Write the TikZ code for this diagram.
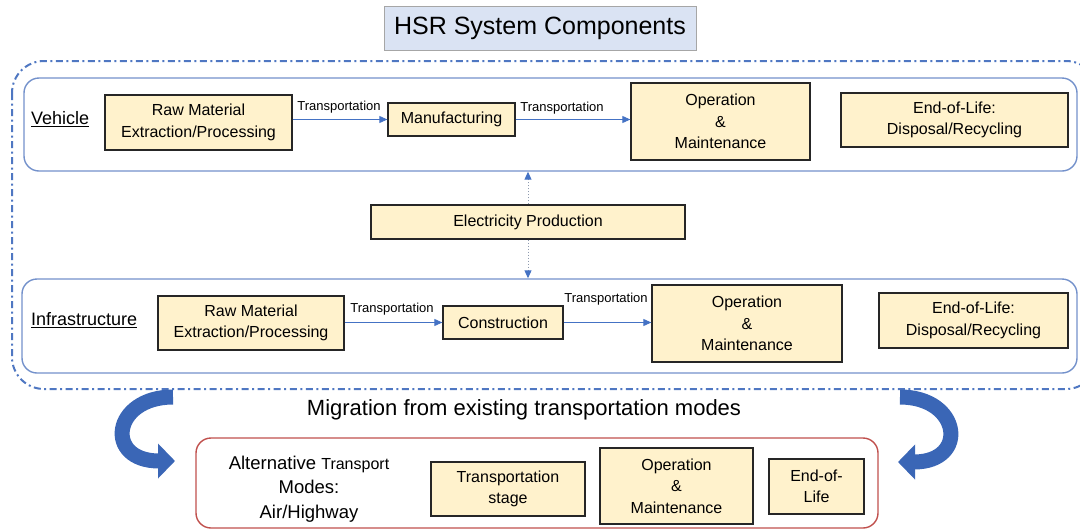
\documentclass[tikz,border=0pt]{standalone}
\usepackage{fontspec}
\setmainfont{Liberation Sans}
\usetikzlibrary{arrows.meta}
\definecolor{boxfill}{HTML}{FFF2CC}
\definecolor{boxline}{HTML}{262626}
\definecolor{contline}{HTML}{7391CB}
\definecolor{outerline}{HTML}{4F77C2}
\definecolor{titlefill}{HTML}{DAE3F3}
\definecolor{titleline}{HTML}{A6A6A6}
\definecolor{redline}{HTML}{C0504D}
\definecolor{arrblue}{HTML}{4472C4}
\definecolor{bigblue}{HTML}{3A66B6}
\definecolor{dotgray}{HTML}{8E9AAF}
\begin{document}
\begin{tikzpicture}[x=1pt,y=-1pt,
 stagebox/.style={draw=boxline, fill=boxfill, line width=1.3pt, inner sep=0pt, align=center, font=\fontsize{16}{21.5}\selectfont},
 container/.style={draw=contline, line width=1.4pt, rounded corners=15pt, inner sep=0pt},
 translabel/.style={font=\fontsize{13}{15}\selectfont, inner sep=0pt},
 flow/.style={draw=arrblue, line width=0.9pt, -{Triangle[length=8pt,width=7pt]}},
 elecflow/.style={draw=dotgray, line width=1pt, dotted, -{Triangle[length=8pt,width=7pt,color=arrblue]}},
 bigarrow/.style={draw=bigblue, line width=15pt, -{Triangle[length=17pt,width=34pt]}},
 seclabel/.style={font=\fontsize{18}{22}\selectfont, inner sep=0pt, anchor=west},
]
\useasboundingbox (0,0) rectangle (1080,531);
\clip (0,0) rectangle (1080,531);

% title
\node[draw=titleline, fill=titlefill, line width=1pt, inner sep=0pt,
      minimum width=312pt, minimum height=44pt, font=\fontsize{25}{30}\selectfont]
      (title) at (540,28) {HSR System Components};

% outer dash-dot frame
\draw[outerline, line width=2pt, dash pattern=on 7pt off 3.5pt on 2pt off 3.5pt,
      rounded corners=32pt] (12,61) rectangle (1098,389);

% containers
\node[container, minimum width=1053pt, minimum height=93pt] (veh) at (550.5,124.5) {};
\node[container, minimum width=1055pt, minimum height=94pt] (inf) at (549.5,326) {};
\node[draw=redline, line width=1.4pt, rounded corners=15pt, inner sep=0pt,
      minimum width=682pt, minimum height=90pt] (alt) at (537,483) {};

% section labels
\node[seclabel] (vehlab) at (31,119) {\underline{Vehicle}};
\node[seclabel] (inflab) at (31,320) {\underline{Infrastructure}};

% vehicle stages
\node[stagebox, minimum width=187pt, minimum height=55pt] (rawv) at (198.5,122.5) {Raw Material\\Extraction/Processing};
\node[stagebox, minimum width=127pt, minimum height=33pt] (mfg) at (451.5,119.5) {Manufacturing};
\node[stagebox, minimum width=179pt, minimum height=77pt] (omv) at (720.5,121.5) {Operation\\\&\\Maintenance};
\node[stagebox, minimum width=227pt, minimum height=54pt] (eolv) at (954.5,120) {End-of-Life:\\Disposal/Recycling};

% electricity
\node[stagebox, minimum width=314pt, minimum height=34pt] (elec) at (528,222) {Electricity Production};

% infrastructure stages
\node[stagebox, minimum width=186pt, minimum height=54pt] (rawi) at (251,323) {Raw Material\\Extraction/Processing};
\node[stagebox, minimum width=120pt, minimum height=33pt] (cons) at (503,322.5) {Construction};
\node[stagebox, minimum width=190pt, minimum height=77pt] (omi) at (747,323.5) {Operation\\\&\\Maintenance};
\node[stagebox, minimum width=189pt, minimum height=55pt] (eoli) at (973.5,320.5) {End-of-Life:\\Disposal/Recycling};

% transport labels
\node[translabel] (t1) at (339,107) {Transportation};
\node[translabel] (t2) at (562,108) {Transportation};
\node[translabel] (t3) at (392,309) {Transportation};
\node[translabel] (t4) at (606,299) {Transportation};

% flows
\draw[flow] (rawv.east |- mfg) -- (mfg.west);
\draw[flow] (mfg.east) -- (omv.west |- mfg);
\draw[flow] (rawi.east |- cons) -- (cons.west);
\draw[flow] (cons.east) -- (omi.west |- cons);
\draw[elecflow] (elec.north) -- (elec.north |- veh.south);
\draw[elecflow] (elec.south) -- (elec.south |- inf.north);

% migration
\node[font=\fontsize{22}{26}\selectfont, inner sep=0pt] (mig) at (524,410) {Migration from existing transportation modes};

% alternative modes
\node[align=center, inner sep=0pt, font=\fontsize{18.5}{24.5}\selectfont] (altlab) at (309,489)
  {Alternative {\fontsize{16}{24}\selectfont Transport}\\Modes:\\Air/Highway};
\node[stagebox, minimum width=154pt, minimum height=54pt] (trs) at (508,489) {Transportation\\stage};
\node[stagebox, minimum width=153pt, minimum height=76pt] (omb) at (676.5,486) {Operation\\\&\\Maintenance};
\node[stagebox, minimum width=95pt, minimum height=55pt] (eolb) at (816.5,486.5) {End-of-\\Life};

% big curved arrows
\coordinate (la) at (173,397);
\coordinate (lb) at (175,461);
\coordinate (ra) at (900,397);
\coordinate (rb) at (898,462);
\draw[bigarrow] (la) .. controls (112,397) and (104,461) .. (lb);
\draw[bigarrow] (ra) .. controls (961,397) and (969,462) .. (rb);
\end{tikzpicture}
\end{document}
